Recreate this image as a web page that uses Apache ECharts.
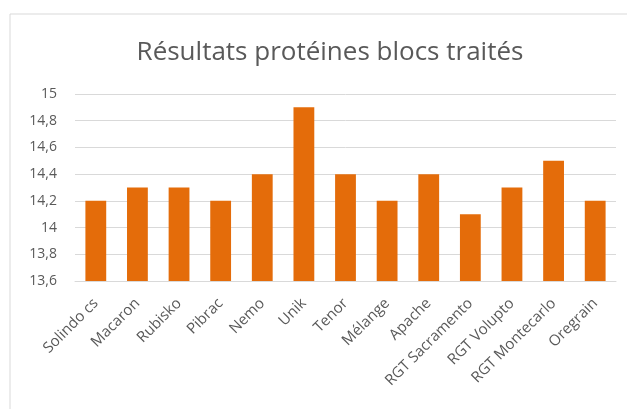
<!DOCTYPE html>
<html>
<head>
<meta charset="utf-8">
<script src="https://cdn.jsdelivr.net/npm/echarts@6/dist/echarts.min.js"></script>
<style>
  html, body { margin: 0; padding: 0; background: #fff; }
  #chart { width: 627px; height: 409px; }
</style>
</head>
<body>
<div id="chart"></div>
<script>
// Chart data
var categories = ["Solindo cs", "Macaron", "Rubisko", "Pibrac", "Nemo", "Unik", "Tenor",
  "Mélange", "Apache", "RGT Sacramento", "RGT Volupto", "RGT Montecarlo", "Oregrain"];
var proteines = [14.2, 14.3, 14.3, 14.2, 14.4, 14.9, 14.4, 14.2, 14.4, 14.1, 14.3, 14.5, 14.2];
var yMin = 13.6;
var yMax = 15;
var yStep = 0.2;

var chart = echarts.init(document.getElementById("chart"));

chart.setOption({
  animation: false,
  textStyle: { fontFamily: "Open Sans, sans-serif" },

  // Chart area border
  graphic: [{
    type: "rect",
    shape: { x: 10, y: 14, width: 700, height: 500 },
    style: { fill: "none", stroke: "#d9d9d9", lineWidth: 1 },
    silent: true
  }],

  title: {
    text: "Résultats protéines blocs traités",
    left: 325,
    textAlign: "center",
    top: 35,
    textStyle: { color: "#595959", fontSize: 26, fontWeight: "normal" }
  },

  grid: { left: 75, right: 11, top: 94, bottom: 128 },

  xAxis: {
    type: "category",
    data: categories,
    axisTick: { show: false },
    axisLine: { lineStyle: { color: "#d9d9d9" } },
    axisLabel: { color: "#595959", fontSize: 15, rotate: 45, interval: 0, margin: 20 }
  },

  yAxis: {
    type: "value",
    min: yMin,
    max: yMax,
    interval: yStep,
    axisLine: { show: false },
    axisTick: { show: false },
    axisLabel: {
      color: "#595959",
      fontSize: 14,
      margin: 18,
      formatter: function (v) {
        return (Math.round(v * 10) / 10).toString().replace(".", ",");
      }
    },
    splitLine: { lineStyle: { color: "#d9d9d9" } }
  },

  series: [{
    type: "bar",
    data: proteines,
    barWidth: "50%",
    itemStyle: { color: "#E46C0A" }
  }]
});
</script>
</body>
</html>
